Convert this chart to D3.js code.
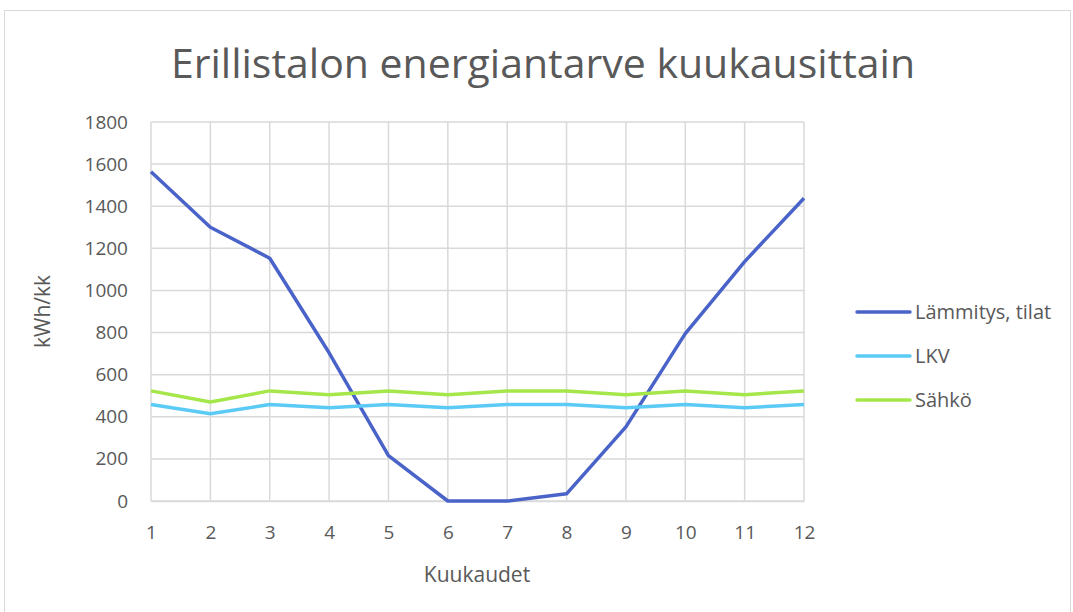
<html>
<head>
<meta charset="utf-8">
<title>Erillistalon energiantarve</title>
<script src="https://cdn.jsdelivr.net/npm/d3@7"></script>
<style>
body { margin: 0; background: #fff; }
text { font-family: "Open Sans", sans-serif; fill: #595959; }
.grid line { stroke: #d9d9d9; stroke-width: 1.5px; }
</style>
</head>
<body>
<script>
// data
var months = [1, 2, 3, 4, 5, 6, 7, 8, 9, 10, 11, 12];
var lammitys = [1564, 1300, 1153, 704, 216, 0, 0, 34, 352, 795, 1137, 1438];
var lkv = [458, 414, 458, 443, 458, 443, 458, 458, 443, 458, 443, 458];
var sahko = [523, 470, 523, 505, 523, 505, 523, 523, 505, 523, 505, 523];
var seriesNames = ["Lämmitys, tilat", "LKV", "Sähkö"];
var seriesColors = ["#4a63c9", "#5bcbf5", "#a5e64a"];
var yTicks = [0, 200, 400, 600, 800, 1000, 1200, 1400, 1600, 1800];

var series = [lammitys, lkv, sahko];

var width = 1073, height = 612;
var plotL = 151, plotR = 804, plotT = 122, plotB = 501;

var svg = d3.select("body").append("svg")
    .attr("width", width)
    .attr("height", height);

svg.append("rect")
    .attr("x", 4.5).attr("y", 10.5)
    .attr("width", 1066).attr("height", 610)
    .attr("fill", "#fff").attr("stroke", "#d9d9d9");

var x = d3.scaleLinear().domain([1, 12]).range([plotL, plotR]);
var y = d3.scaleLinear().domain([0, 1800]).range([plotB, plotT]);

// gridlines
var grid = svg.append("g").attr("class", "grid");
grid.selectAll("line.h").data(yTicks).enter().append("line")
    .attr("x1", plotL).attr("x2", plotR)
    .attr("y1", function(d) { return y(d); })
    .attr("y2", function(d) { return y(d); });
grid.selectAll("line.v").data(months).enter().append("line")
    .attr("y1", plotT).attr("y2", plotB)
    .attr("x1", function(d) { return x(d); })
    .attr("x2", function(d) { return x(d); });

// axes
var yAxis = svg.append("g")
    .attr("transform", "translate(" + plotL + ",0)")
    .call(d3.axisLeft(y).tickValues(yTicks).tickFormat(d3.format("d")).tickSize(0).tickPadding(23));
yAxis.select(".domain").remove();
yAxis.selectAll("text").style("font-size", "19px").attr("fill", "#595959");

var xAxis = svg.append("g")
    .attr("transform", "translate(0," + plotB + ")")
    .call(d3.axisBottom(x).tickValues(months).tickSize(0).tickPadding(25));
xAxis.select(".domain").attr("stroke", "#d9d9d9").attr("stroke-width", 1.5);
xAxis.selectAll("text").style("font-size", "19px").attr("fill", "#595959");

// lines
var line = d3.line()
    .x(function(d, i) { return x(months[i]); })
    .y(function(d) { return y(d); });

svg.selectAll("path.series").data(series).enter().append("path")
    .attr("class", "series")
    .attr("d", line)
    .attr("fill", "none")
    .attr("stroke", function(d, i) { return seriesColors[i]; })
    .attr("stroke-width", 3.5)
    .attr("stroke-linejoin", "round");

// titles
svg.append("text")
    .attr("x", 543).attr("y", 78)
    .attr("text-anchor", "middle")
    .style("font-size", "41px")
    .text("Erillistalon energiantarve kuukausittain");

svg.append("text")
    .attr("x", 477).attr("y", 582)
    .attr("text-anchor", "middle")
    .style("font-size", "21px")
    .text("Kuukaudet");

svg.append("text")
    .attr("transform", "translate(50," + ((plotT + plotB) / 2) + ") rotate(-90)")
    .attr("text-anchor", "middle")
    .style("font-size", "21px")
    .text("kWh/kk");

// legend
var legend = svg.selectAll("g.legend").data(seriesNames).enter().append("g")
    .attr("class", "legend")
    .attr("transform", function(d, i) { return "translate(857," + (312 + i * 44) + ")"; });
legend.append("line")
    .attr("x1", 0).attr("x2", 53)
    .attr("stroke", function(d, i) { return seriesColors[i]; })
    .attr("stroke-width", 3.5)
    .attr("stroke-linecap", "round");
legend.append("text")
    .attr("x", 58).attr("dy", "0.35em")
    .style("font-size", "20px")
    .text(function(d) { return d; });
</script>
</body>
</html>
